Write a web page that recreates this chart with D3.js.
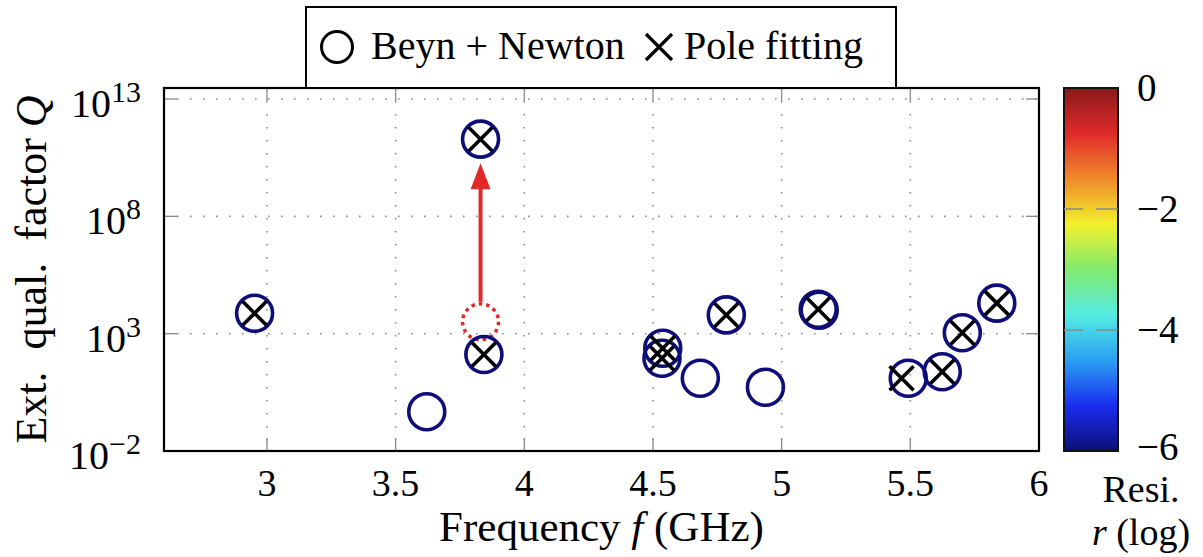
<!DOCTYPE html>
<html>
<head>
<meta charset="utf-8">
<script src="https://cdn.jsdelivr.net/npm/d3@7"></script>
<style>
  body { margin: 0; background: #fff; }
  text { font-family: "Times New Roman", "Liberation Serif", "DejaVu Serif", serif; fill: #000; }
</style>
</head>
<body>
<div id="chart"></div>
<script>

// Beyn + Newton eigenvalues (frequency in GHz, external Q, log residual)
let beynFreq  = [2.952, 3.621, 3.843, 3.830, 4.535, 4.538, 4.684, 4.785, 4.937, 5.142, 5.146, 5.492, 5.624, 5.702, 5.836];
let beynQ     = [7400, 0.47, 130, 1.95e11, 90, 240, 12.6, 6300, 5.2, 11000, 10000, 12.6, 24, 1100, 20000];
let beynResid = [-6, -6, -6, -6, -6, -6, -6, -6, -6, -6, -6, -6, -6, -6, -6];

// pole fitting results
let poleFreq = [2.952, 3.830, 3.843, 4.535, 4.538, 4.785, 5.142, 5.466, 5.624, 5.702, 5.836];
let poleQ    = [7400, 1.95e11, 130, 90, 240, 6300, 11000, 12.6, 24, 1100, 20000];

// point before Newton refinement and where it moved to
let movedFrom = [3.830, 3200];
let movedTo   = [3.830, 1.95e11];

let xTicks = [3, 3.5, 4, 4.5, 5, 5.5, 6];
let yTickExp = [-2, 3, 8, 13];
let residTicks = [0, -2, -4, -6];

// colormap for the residual (jet-like)
let cmapStops  = [-6, -5.25, -4.5, -3.75, -3, -2.25, -1.5, -0.75, 0];
let cmapColors = ["#0e0e78", "#1a2ef0", "#2aa0f2", "#55ece2", "#82ea6e", "#f2f02c", "#f08a2a", "#e02a2a", "#881a1a"];


class ResonanceChart {

    constructor(_parentElement) {
        this.parentElement = _parentElement;
        this.initVis();
    }

    /*
     * Static content: svg, scales, frame, grid, axes
     */
    initVis() {
        let vis = this;

        vis.width = 1203;
        vis.height = 557;
        vis.plot = { left: 164, right: 1039, top: 88, bottom: 451 };

        vis.svg = d3.select("#" + vis.parentElement).append("svg")
            .attr("width", vis.width)
            .attr("height", vis.height);

        vis.x = d3.scaleLinear().domain([2.6, 6]).range([vis.plot.left, vis.plot.right]);
        vis.y = d3.scaleLog().domain([1e-2, Math.pow(10, 13.47)]).range([vis.plot.bottom, vis.plot.top]);
        vis.color = d3.scaleLinear().domain(cmapStops).range(cmapColors).clamp(true);

        // dotted grid
        vis.svg.append("g").selectAll("line")
            .data(xTicks.filter(d => d < 6))
            .join("line")
            .attr("x1", d => vis.x(d)).attr("x2", d => vis.x(d))
            .attr("y1", vis.plot.top).attr("y2", vis.plot.bottom)
            .attr("stroke", "#8a8a8a").attr("stroke-width", 1.6)
            .attr("stroke-dasharray", "1.6 11.4");

        vis.svg.append("g").selectAll("line")
            .data(yTickExp.filter(d => d > -2))
            .join("line")
            .attr("x1", vis.plot.left).attr("x2", vis.plot.right)
            .attr("y1", d => vis.y(Math.pow(10, d))).attr("y2", d => vis.y(Math.pow(10, d)))
            .attr("stroke", "#8a8a8a").attr("stroke-width", 1.6)
            .attr("stroke-dasharray", "1.6 11.4");

        // tick marks on all sides
        let tickLen = 13;
        let ticks = vis.svg.append("g").attr("stroke", "#8a8a8a").attr("stroke-width", 1.3);
        xTicks.forEach(d => {
            ticks.append("line").attr("x1", vis.x(d)).attr("x2", vis.x(d))
                .attr("y1", vis.plot.bottom).attr("y2", vis.plot.bottom - tickLen);
            ticks.append("line").attr("x1", vis.x(d)).attr("x2", vis.x(d))
                .attr("y1", vis.plot.top).attr("y2", vis.plot.top + tickLen);
        });
        yTickExp.forEach(d => {
            let yy = vis.y(Math.pow(10, d));
            ticks.append("line").attr("x1", vis.plot.left).attr("x2", vis.plot.left + tickLen)
                .attr("y1", yy).attr("y2", yy);
            ticks.append("line").attr("x1", vis.plot.right).attr("x2", vis.plot.right - tickLen)
                .attr("y1", yy).attr("y2", yy);
        });

        // x tick labels
        vis.svg.append("g").selectAll("text")
            .data(xTicks)
            .join("text")
            .attr("x", d => vis.x(d))
            .attr("y", 496)
            .attr("text-anchor", "middle")
            .style("font-size", "38px")
            .text(d => d);

        // y tick labels 10^n
        let yLabels = vis.svg.append("g").selectAll("text")
            .data(yTickExp)
            .join("text")
            .attr("x", 141)
            .attr("y", d => vis.y(Math.pow(10, d)) + 18)
            .attr("text-anchor", "end")
            .style("font-size", "40px");
        yLabels.append("tspan").text("10");
        yLabels.append("tspan")
            .attr("dy", -15)
            .style("font-size", "30px")
            .text(d => d < 0 ? "\u2212" + Math.abs(d) : d);

        // axis titles
        let xTitle = vis.svg.append("text")
            .attr("x", (vis.plot.left + vis.plot.right) / 2)
            .attr("y", 541)
            .attr("text-anchor", "middle")
            .style("font-size", "43px");
        xTitle.append("tspan").text("Frequency ");
        xTitle.append("tspan").style("font-style", "italic").text("f");
        xTitle.append("tspan").text(" (GHz)");

        let yTitle = vis.svg.append("text")
            .attr("transform", "translate(46," + ((vis.plot.top + vis.plot.bottom) / 2) + ") rotate(-90)")
            .attr("text-anchor", "middle")
            .style("font-size", "44px")
            .style("white-space", "pre");
        yTitle.append("tspan").text("Ext.  qual.  factor ");
        yTitle.append("tspan").style("font-style", "italic").text("Q");

        vis.drawColorbar();
        vis.wrangleData();
    }

    /*
     * Colorbar for the residual
     */
    drawColorbar() {
        let vis = this;

        let cb = { left: 1064, right: 1118 };
        let cy = d3.scaleLinear().domain([-6, 0]).range([vis.plot.bottom, vis.plot.top]);

        let grad = vis.svg.append("defs").append("linearGradient")
            .attr("id", "residGrad")
            .attr("x1", 0).attr("y1", 1).attr("x2", 0).attr("y2", 0);
        grad.selectAll("stop")
            .data(cmapStops)
            .join("stop")
            .attr("offset", d => (d + 6) / 6)
            .attr("stop-color", d => vis.color(d));

        vis.svg.append("rect")
            .attr("x", cb.left).attr("y", cy(0))
            .attr("width", cb.right - cb.left)
            .attr("height", cy(-6) - cy(0))
            .attr("fill", "url(#residGrad)")
            .attr("stroke", "#111").attr("stroke-width", 2);

        // ticks inside the colorbar
        residTicks.filter(d => d > -6 && d < 0).forEach(d => {
            vis.svg.append("line").attr("x1", cb.left).attr("x2", cb.left + 19)
                .attr("y1", cy(d)).attr("y2", cy(d))
                .attr("stroke", "#8a8a8a").attr("stroke-width", 1.5);
            vis.svg.append("line").attr("x1", cb.right).attr("x2", cb.right - 22)
                .attr("y1", cy(d)).attr("y2", cy(d))
                .attr("stroke", "#8a8a8a").attr("stroke-width", 1.5);
        });

        vis.svg.append("g").selectAll("text")
            .data(residTicks)
            .join("text")
            .attr("x", 1137)
            .attr("y", d => cy(d) + (d === -6 ? 9 : 13))
            .style("font-size", "39px")
            .text(d => d < 0 ? "\u2212" + Math.abs(d) : d);

        vis.svg.append("text")
            .attr("x", 1141).attr("y", 502)
            .attr("text-anchor", "middle")
            .style("font-size", "38px")
            .text("Resi.");
        let rl = vis.svg.append("text")
            .attr("x", 1141).attr("y", 545)
            .attr("text-anchor", "middle")
            .style("font-size", "38px");
        rl.append("tspan").style("font-style", "italic").text("r");
        rl.append("tspan").text(" (log)");
    }

    /*
     * Pair up the arrays
     */
    wrangleData() {
        let vis = this;

        vis.beyn = beynFreq.map((f, i) => ({ f: f, q: beynQ[i], r: beynResid[i] }));
        vis.poles = poleFreq.map((f, i) => ({ f: f, q: poleQ[i] }));

        vis.updateVis();
    }

    /*
     * Markers, arrow, frame and legend
     */
    updateVis() {
        let vis = this;
        let rad = 18;
        let half = 12;

        // dotted circle where the eigenvalue started
        vis.svg.append("circle")
            .attr("cx", vis.x(movedFrom[0]))
            .attr("cy", vis.y(movedFrom[1]))
            .attr("r", rad)
            .attr("fill", "none")
            .attr("stroke", "#e02a2a")
            .attr("stroke-width", 3.5)
            .attr("stroke-dasharray", "3.5 4");

        // arrow to the refined eigenvalue
        let ax = vis.x(movedFrom[0]);
        let y0 = vis.y(movedFrom[1]) - rad - 2;
        let tip = vis.y(movedTo[1]) + rad + 6;
        vis.svg.append("line")
            .attr("x1", ax).attr("x2", ax)
            .attr("y1", y0).attr("y2", tip + 20)
            .attr("stroke", "#e02a2a").attr("stroke-width", 4);
        vis.svg.append("path")
            .attr("d", "M" + ax + "," + tip + "L" + (ax - 10) + "," + (tip + 26) + "L" + (ax + 10) + "," + (tip + 26) + "Z")
            .attr("fill", "#e02a2a");

        // Beyn + Newton circles
        vis.svg.append("g").selectAll("circle")
            .data(vis.beyn)
            .join("circle")
            .attr("cx", d => vis.x(d.f))
            .attr("cy", d => vis.y(d.q))
            .attr("r", rad)
            .attr("fill", "none")
            .attr("stroke", d => vis.color(d.r))
            .attr("stroke-width", 3.6);

        // pole fitting crosses
        vis.svg.append("g").selectAll("path")
            .data(vis.poles)
            .join("path")
            .attr("d", d => {
                let cx = vis.x(d.f), cy = vis.y(d.q);
                return "M" + (cx - half) + "," + (cy - half) + "L" + (cx + half) + "," + (cy + half) +
                    "M" + (cx - half) + "," + (cy + half) + "L" + (cx + half) + "," + (cy - half);
            })
            .attr("stroke", "#000")
            .attr("stroke-width", 3.6)
            .attr("fill", "none");

        // frame
        vis.svg.append("rect")
            .attr("x", vis.plot.left).attr("y", vis.plot.top)
            .attr("width", vis.plot.right - vis.plot.left)
            .attr("height", vis.plot.bottom - vis.plot.top)
            .attr("fill", "none")
            .attr("stroke", "#000").attr("stroke-width", 2.2);

        // legend
        let lg = vis.svg.append("g");
        lg.append("rect")
            .attr("x", 306).attr("y", 7)
            .attr("width", 590).attr("height", vis.plot.top - 7)
            .attr("fill", "#fff")
            .attr("stroke", "#000").attr("stroke-width", 2);
        lg.append("circle")
            .attr("cx", 337).attr("cy", 47).attr("r", 15.5)
            .attr("fill", "none").attr("stroke", "#000").attr("stroke-width", 3);
        lg.append("text")
            .attr("x", 371).attr("y", 59)
            .style("font-size", "40px")
            .text("Beyn + Newton");
        lg.append("path")
            .attr("d", "M646,34L672,60M646,60L672,34")
            .attr("stroke", "#000").attr("stroke-width", 3.2);
        lg.append("text")
            .attr("x", 684).attr("y", 59)
            .style("font-size", "40px")
            .text("Pole fitting");
    }
}

new ResonanceChart("chart");

</script>
</body>
</html>
